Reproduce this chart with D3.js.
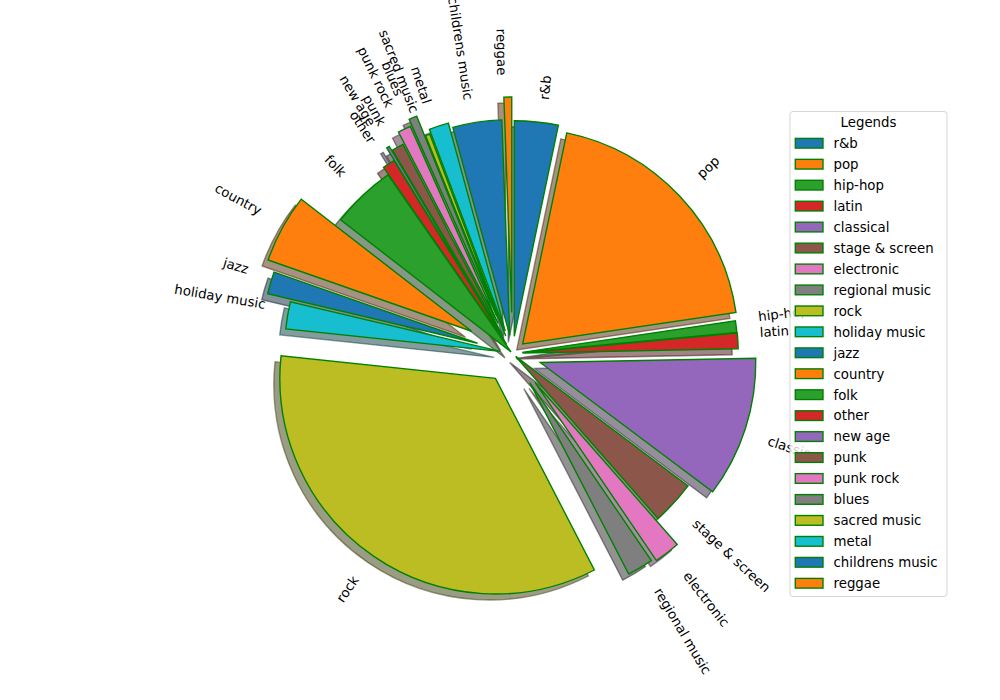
<!DOCTYPE html>
<html>
<head>
<meta charset="utf-8">
<script src="https://cdn.jsdelivr.net/npm/d3@7"></script>
<style>
html,body{margin:0;padding:0;background:#fff;}
svg{display:block;font-family:"DejaVu Sans",sans-serif;}
</style>
</head>
<body>
<svg id="chart" width="1000" height="700"></svg>
<script>
const categories = ["r&b","pop","hip-hop","latin","classical","stage & screen","electronic","regional music","rock","holiday music","jazz","country","folk","other","new age","punk","punk rock","blues","sacred music","metal","childrens music","reggae"];
const values = [11.8,69.8,3.1,4.2,38.0,11.8,7.0,7.0,123.3,7.3,6.0,18.5,17.4,3.3,0.8,3.2,3.5,2.2,1.2,5.3,13.2,2.1];
const explode = [0.08,0.065,0.045,0.047,0.135,0.02,0.17,0.157,0.14,0.058,0.169,0.216,0.01,0.05,0.118,0.095,0.155,0.187,0.087,0.109,0.085,0.19];
const palette = ["#1f77b4","#ff7f0e","#2ca02c","#d62728","#9467bd","#8c564b","#e377c2","#7f7f7f","#bcbd22","#17becf"];
const legendTitle = "Legends";

const svg = d3.select("#chart");
const cx = 512.5, cy = 353.5, R = 215.6;
const shadowOff = 6;
const data = categories.map((c,i)=>({name:c, v:values[i], e:explode[i], color:palette[i%palette.length]}));
const pie = d3.pie().sort(null).value(d=>d.v).startAngle(0).endAngle(2*Math.PI);
const arcs = pie(data);
const arc = d3.arc().innerRadius(0).outerRadius(R);

function off(a){
  const m = (a.startAngle + a.endAngle)/2;
  return [Math.sin(m)*a.data.e*R, -Math.cos(m)*a.data.e*R];
}
function shadowColor(c){
  const r = d3.rgb(c);
  return d3.rgb(r.r*0.3, r.g*0.3, r.b*0.3).toString();
}

const g = svg.append("g").attr("transform",`translate(${cx},${cy})`);
// shadows
g.selectAll("path.shadow").data(arcs).enter().append("path")
  .attr("class","shadow")
  .attr("d",arc)
  .attr("transform",d=>{const o=off(d);return `translate(${o[0]-shadowOff},${o[1]+shadowOff})`;})
  .attr("fill",d=>shadowColor(d.data.color))
  .attr("fill-opacity",0.5)
  .attr("stroke",d=>shadowColor(d.data.color))
  .attr("stroke-opacity",0.5)
  .attr("stroke-width",1.39);
// wedges
g.selectAll("path.wedge").data(arcs).enter().append("path")
  .attr("class","wedge")
  .attr("d",arc)
  .attr("transform",d=>{const o=off(d);return `translate(${o[0]},${o[1]})`;})
  .attr("fill",d=>d.data.color)
  .attr("stroke","#008000")
  .attr("stroke-width",1.39);

// labels (rotated first, then aligned by rotated bounding box)
const fs = 13.33;
const hText = 0.97*fs, dText = 0.21*fs;
arcs.forEach(d=>{
  const m = (d.startAngle + d.endAngle)/2;
  const dist = (1.1 + d.data.e)*R;
  const xt = Math.sin(m)*dist, yt = Math.cos(m)*dist; // yt up-positive
  const thetam = 90 - m*180/Math.PI;
  const rot = thetam + (xt > 0 ? 0 : 180);
  const t = g.append("text")
    .attr("font-size",fs)
    .attr("fill","#000")
    .text(d.data.name);
  const w = t.node().getComputedTextLength();
  const a = -rot*Math.PI/180; // svg rotation (clockwise positive)
  const ca = Math.cos(a), sa = Math.sin(a);
  const corners = [[0,-(hText-dText)],[w,-(hText-dText)],[w,dText],[0,dText]]
    .map(([x,y])=>[x*ca - y*sa, x*sa + y*ca]);
  const minX = d3.min(corners,c=>c[0]), maxX = d3.max(corners,c=>c[0]);
  const minY = d3.min(corners,c=>c[1]), maxY = d3.max(corners,c=>c[1]);
  const sx = xt, sy = -yt;
  const tx = xt > 0 ? sx - minX : sx - maxX;
  const ty = yt > 0 ? sy - maxY : sy - minY;
  t.attr("transform",`translate(${tx},${ty}) rotate(${-rot})`);
});

// legend
const lx = 790, ly = 111.5, lw = 157, lh = 485;
const lg = svg.append("g");
lg.append("rect").attr("x",lx).attr("y",ly).attr("width",lw).attr("height",lh)
  .attr("rx",3).attr("fill","#fff").attr("fill-opacity",0.8)
  .attr("stroke","#cccccc").attr("stroke-opacity",0.8).attr("stroke-width",1);
lg.append("text").attr("x",lx+lw/2).attr("y",127.2).attr("text-anchor","middle")
  .attr("font-size",fs).attr("fill","#000").text(legendTitle);
const rowY = d3.scaleLinear().domain([0,categories.length-1]).range([143.3,583.3]);
data.forEach((d,i)=>{
  const y = rowY(i);
  lg.append("rect").attr("x",795.3).attr("y",y-4.9).attr("width",27.7).attr("height",9.7)
    .attr("fill",d.color).attr("stroke","#008000").attr("stroke-width",1.39);
  lg.append("text").attr("x",833.5).attr("y",y+4.8).attr("font-size",fs).attr("fill","#000").text(d.name);
});
</script>
</body>
</html>
